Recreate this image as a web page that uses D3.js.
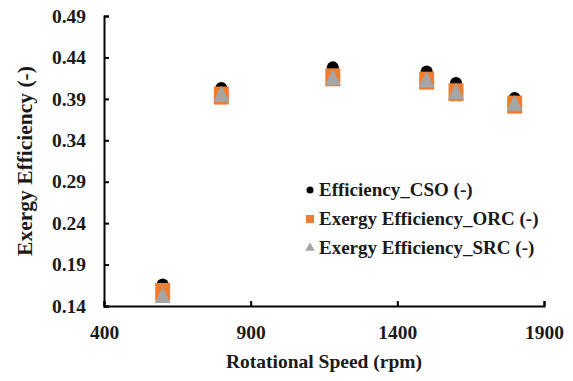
<!DOCTYPE html>
<html>
<head>
<meta charset="utf-8">
<script src="https://cdn.jsdelivr.net/npm/d3@7"></script>
<style>
  body { margin: 0; background: #fff; }
</style>
</head>
<body>
<svg id="chart" width="573" height="381"></svg>
<script>
// rotational speed (rpm)
const speeds = [600, 800, 1180, 1500, 1600, 1800];
const effCSO = [0.166, 0.403, 0.428, 0.423, 0.409, 0.391];
const effORC = [0.157, 0.394, 0.416, 0.412, 0.398, 0.383];
const effSRC = [0.150, 0.393, 0.413, 0.410, 0.396, 0.382];

const xTicks = [400, 900, 1400, 1900];
const yTicks = [0.14, 0.19, 0.24, 0.29, 0.34, 0.39, 0.44, 0.49];

const seriesNames = [
    'Efficiency_CSO (-)',
    'Exergy Efficiency_ORC (-)',
    'Exergy Efficiency_SRC (-)'
];
const colors = ['#000000', '#ed7d31', '#a5a5a5'];

const FONT = 'Liberation Serif';
const TEXT_COLOR = '#1a1a1a';

const margin = { top: 16, left: 104, bottom: 75, right: 29 };
const width = 573, height = 381;
const chartWidth = width - margin.left - margin.right;
const chartHeight = height - margin.top - margin.bottom;

const svg = d3.select('#chart');
const g = svg.append('g').attr('transform', `translate(${[margin.left, margin.top]})`);

const x = d3.scaleLinear().domain([400, 1900]).range([0, chartWidth]);
const y = d3.scaleLinear().domain([0.14, 0.49]).range([chartHeight, 0]);

function styleText(sel, size) {
    return sel
        .attr('font-family', FONT)
        .attr('font-weight', 'bold')
        .attr('font-size', size)
        .attr('fill', TEXT_COLOR);
}

// axes, ticks drawn inside like the excel original
const xAxe = d3.axisTop(x).tickValues(xTicks).tickSize(5).tickFormat(d3.format('d'));
const yAxe = d3.axisRight(y).tickValues(yTicks).tickSize(5).tickFormat(d3.format('.2f'));

const xg = g.append('g').attr('transform', `translate(0, ${chartHeight})`).call(xAxe);
const yg = g.append('g').call(yAxe);

[xg, yg].forEach(a => {
    a.attr('font-family', FONT).attr('font-size', 19.5);
    a.select('.domain').attr('stroke', '#000').attr('stroke-width', 2);
    a.selectAll('.tick line').attr('stroke', '#000').attr('stroke-width', 2);
    styleText(a.selectAll('.tick text'), 19.5);
});
xg.selectAll('.tick text').attr('y', 27).attr('dy', '0.32em');
yg.selectAll('.tick text').attr('x', -18).attr('dy', '0.32em').attr('text-anchor', 'end');

// axis titles
styleText(g.append('text'), 19.5)
    .attr('x', chartWidth / 2)
    .attr('y', chartHeight + 62)
    .attr('text-anchor', 'middle')
    .text('Rotational Speed (rpm)');

styleText(g.append('text'), 21.5)
    .attr('transform', `translate(-72, ${chartHeight / 2}) rotate(-90)`)
    .attr('text-anchor', 'middle')
    .text('Exergy Efficiency (-)');

// markers
const triangle = d3.symbol().type(d3.symbolTriangle).size(110);

g.append('g').selectAll('circle')
    .data(speeds.map((s, i) => [s, effCSO[i]]))
    .join('circle')
    .attr('cx', d => x(d[0]))
    .attr('cy', d => y(d[1]))
    .attr('r', 6)
    .attr('fill', colors[0]);

g.append('g').selectAll('rect')
    .data(speeds.map((s, i) => [s, effORC[i]]))
    .join('rect')
    .attr('x', d => x(d[0]) - 7.5)
    .attr('y', d => y(d[1]) - 9)
    .attr('width', 15)
    .attr('height', 18)
    .attr('fill', colors[1]);

g.append('g').selectAll('path')
    .data(speeds.map((s, i) => [s, effSRC[i]]))
    .join('path')
    .attr('d', triangle)
    .attr('transform', d => `translate(${x(d[0])}, ${y(d[1])}) scale(1, 1.15)`)
    .attr('fill', colors[2]);

// legend
const legend = svg.append('g').attr('transform', 'translate(310, 190)');
const rows = legend.selectAll('g')
    .data(seriesNames)
    .join('g')
    .attr('transform', (d, i) => `translate(0, ${i * 29})`);

rows.each(function(d, i) {
    const row = d3.select(this);
    if (i === 0) {
        row.append('circle').attr('r', 3.5).attr('fill', colors[0]);
    } else if (i === 1) {
        row.append('rect').attr('x', -4).attr('y', -4).attr('width', 8).attr('height', 8).attr('fill', colors[1]);
    } else {
        row.append('path').attr('d', d3.symbol().type(d3.symbolTriangle).size(40)).attr('fill', colors[2]);
    }
});

styleText(rows.append('text'), 19)
    .attr('x', 9)
    .attr('dy', '0.32em')
    .text(d => d);
</script>
</body>
</html>
